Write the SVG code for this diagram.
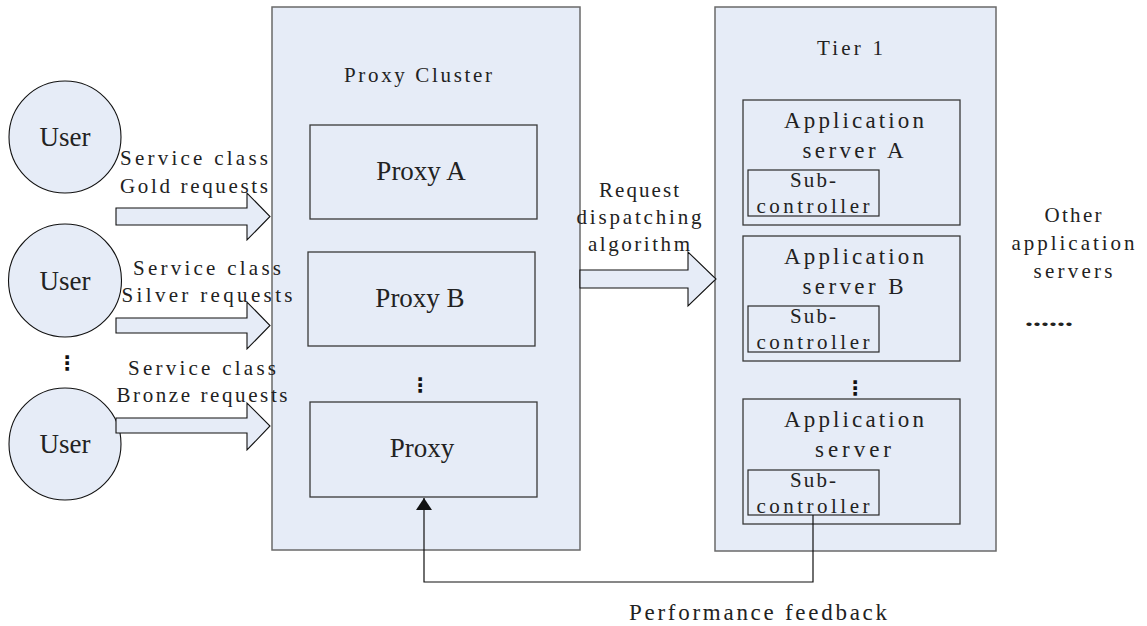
<svg xmlns="http://www.w3.org/2000/svg" width="1147" height="626" viewBox="0 0 1147 626">
  <style>
    .bg { fill: #ffffff; }
    .cluster { fill: #E6ECF7; stroke: #6a6a6a; stroke-width: 1.5; }
    .box { fill: #E6ECF7; stroke: #3a3a3a; stroke-width: 1.3; }
    .sub { fill: #E6ECF7; stroke: #2a2a2a; stroke-width: 1.2; }
    .user { fill: #E6ECF7; stroke: #111; stroke-width: 1.1; }
    .block { fill: #E6ECF7; stroke: #111; stroke-width: 1.1; stroke-linejoin: miter; }
    .wire { fill: none; stroke: #111; stroke-width: 1.2; }
    .serif { font-family: "Liberation Serif", "Times New Roman", serif; font-size: 27px; fill: #222; text-anchor: middle; }
    .lbl { font-family: "Liberation Serif", "Times New Roman", serif; font-size: 21px; fill: #222; text-anchor: middle; }
    .lbl21 { font-family: "Liberation Serif", "Times New Roman", serif; font-size: 23px; fill: #222; text-anchor: middle; }
    .dots { font-family: "DejaVu Sans", sans-serif; font-size: 20px; font-weight: bold; fill: #111; text-anchor: middle; }
  </style>
  <defs>
    <marker id="tri" viewBox="0 0 12 16" refX="12" refY="8" markerWidth="12" markerHeight="16" markerUnits="userSpaceOnUse" orient="auto">
      <path d="M0,0 L12,8 L0,16 Z" fill="#111"/>
    </marker>
  </defs>

  <rect class="bg" x="0" y="0" width="1147" height="626"/>

  <!-- users -->
  <g id="user-1">
    <circle class="user" cx="65" cy="137" r="56"/>
    <text class="serif" x="65" y="146">User</text>
  </g>
  <g id="user-2">
    <circle class="user" cx="65" cy="280.5" r="56.5"/>
    <text class="serif" x="65" y="290">User</text>
  </g>
  <g id="user-dots">
    <text class="dots" x="67" y="370">⋮</text>
  </g>
  <g id="user-3">
    <circle class="user" cx="65" cy="444" r="56"/>
    <text class="serif" x="65" y="453">User</text>
  </g>

  <!-- proxy cluster -->
  <g id="proxy-cluster">
    <rect class="cluster" x="272" y="7" width="308" height="543"/>
    <text class="lbl" x="418" y="82" textLength="148" lengthAdjust="spacing">Proxy Cluster</text>
  </g>
  <g id="proxy-a">
    <rect class="box" x="310" y="125" width="227" height="94"/>
    <text class="serif" x="421" y="180">Proxy A</text>
  </g>
  <g id="proxy-b">
    <rect class="box" x="308" y="252" width="227" height="94"/>
    <text class="serif" x="420" y="307">Proxy B</text>
  </g>
  <g id="proxy-dots">
    <text class="dots" x="420" y="392">⋮</text>
  </g>
  <g id="proxy-n">
    <rect class="box" x="310" y="402" width="227" height="95"/>
    <text class="serif" x="422" y="457">Proxy</text>
  </g>

  <!-- tier 1 -->
  <g id="tier-1">
    <rect class="cluster" x="715" y="7" width="281" height="544"/>
    <text class="lbl" x="850" y="55" textLength="66" lengthAdjust="spacing">Tier 1</text>
  </g>
  <g id="app-server-a">
    <rect class="box" x="743" y="100" width="217" height="125"/>
    <text class="lbl21" x="854" y="128" textLength="140" lengthAdjust="spacing">Application</text>
    <text class="lbl21" x="853" y="158" textLength="101" lengthAdjust="spacing">server A</text>
    <rect class="sub" x="748" y="170" width="131" height="46"/>
    <text class="lbl" x="813" y="187" textLength="46" lengthAdjust="spacing">Sub-</text>
    <text class="lbl" x="813" y="213" textLength="113" lengthAdjust="spacing">controller</text>
  </g>
  <g id="app-server-b">
    <rect class="box" x="743" y="236" width="217" height="125"/>
    <text class="lbl21" x="854" y="264" textLength="140" lengthAdjust="spacing">Application</text>
    <text class="lbl21" x="853" y="294" textLength="101" lengthAdjust="spacing">server B</text>
    <rect class="sub" x="748" y="306" width="131" height="46"/>
    <text class="lbl" x="813" y="323" textLength="46" lengthAdjust="spacing">Sub-</text>
    <text class="lbl" x="813" y="349" textLength="113" lengthAdjust="spacing">controller</text>
  </g>
  <g id="app-dots">
    <text class="dots" x="855" y="395" font-size="16" font-weight="normal">⋮</text>
  </g>
  <g id="app-server-n">
    <rect class="box" x="743" y="399" width="217" height="125"/>
    <text class="lbl21" x="854" y="427" textLength="140" lengthAdjust="spacing">Application</text>
    <text class="lbl21" x="853" y="457" textLength="76" lengthAdjust="spacing">server</text>
    <rect class="sub" x="748" y="470" width="131" height="45"/>
    <text class="lbl" x="813" y="487" textLength="46" lengthAdjust="spacing">Sub-</text>
    <text class="lbl" x="813" y="513" textLength="113" lengthAdjust="spacing">controller</text>
  </g>

  <g id="other-servers">
    <text class="lbl" x="1073" y="222" textLength="57" lengthAdjust="spacing">Other</text>
    <text class="lbl" x="1073" y="250" textLength="123" lengthAdjust="spacing">application</text>
    <text class="lbl" x="1073" y="278" textLength="79" lengthAdjust="spacing">servers</text>
    <text class="lbl" x="1049" y="326" textLength="48" lengthAdjust="spacingAndGlyphs" font-weight="bold">......</text>
  </g>

  <!-- connectors -->
  <g id="connectors">
    <polygon class="block" points="116,208 247,208 247,193 270,216.5 247,240 247,225 116,225"/>
    <polygon class="block" points="116,318 247,318 247,302 270,325.5 247,349 247,333 116,333"/>
    <polygon class="block" points="116,418 247,418 247,403 270,426 247,450 247,433 116,433"/>
    <polygon class="block" points="580,270 688,270 688,252 716,279 688,306 688,288 580,288"/>
    <path class="wire" d="M813,515 V582 H424 V498" marker-end="url(#tri)"/>
  </g>

  <!-- labels -->
  <g id="labels">
    <text class="lbl" x="194" y="165" textLength="148" lengthAdjust="spacing">Service class</text>
    <text class="lbl" x="194" y="193" textLength="148" lengthAdjust="spacing">Gold requests</text>
    <text class="lbl" x="207" y="275" textLength="148" lengthAdjust="spacing">Service class</text>
    <text class="lbl" x="207" y="302" textLength="171" lengthAdjust="spacing">Silver requests</text>
    <text class="lbl" x="202" y="375" textLength="148" lengthAdjust="spacing">Service class</text>
    <text class="lbl" x="202" y="402" textLength="171" lengthAdjust="spacing">Bronze requests</text>
    <text class="lbl" x="639" y="197" textLength="80" lengthAdjust="spacing">Request</text>
    <text class="lbl" x="639" y="224" textLength="125" lengthAdjust="spacing">dispatching</text>
    <text class="lbl" x="639" y="251" textLength="102" lengthAdjust="spacing">algorithm</text>
    <text class="lbl21" x="758" y="620" textLength="258" lengthAdjust="spacing">Performance feedback</text>
  </g>
</svg>
